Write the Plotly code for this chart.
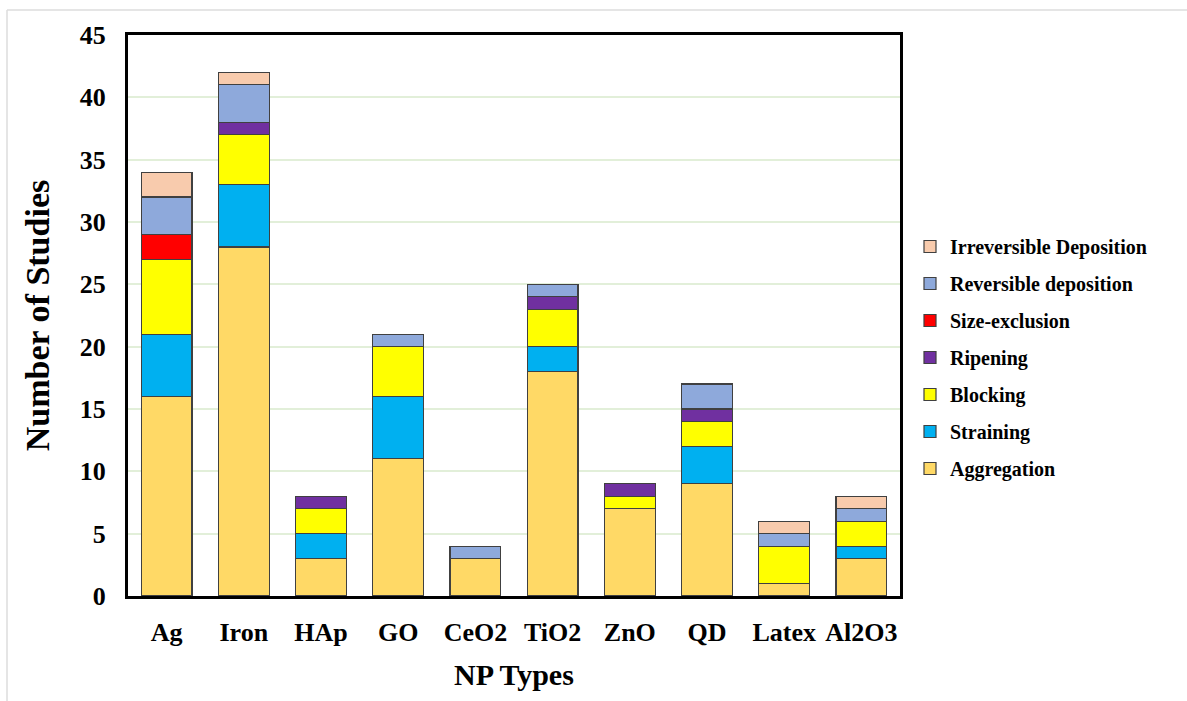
import plotly.graph_objects as go

np_types = ["Ag", "Iron", "HAp", "GO", "CeO2", "TiO2", "ZnO", "QD", "Latex", "Al2O3"]

aggregation = [16, 28, 3, 11, 3, 18, 7, 9, 1, 3]
straining = [5, 5, 2, 5, 0, 2, 0, 3, 0, 1]
blocking = [6, 4, 2, 4, 0, 3, 1, 2, 3, 2]
ripening = [0, 1, 1, 0, 0, 1, 1, 1, 0, 0]
size_exclusion = [2, 0, 0, 0, 0, 0, 0, 0, 0, 0]
reversible = [3, 3, 0, 1, 1, 1, 0, 2, 1, 1]
irreversible = [2, 1, 0, 0, 0, 0, 0, 0, 1, 1]

series = [
    ("Aggregation", aggregation, "#FFD966"),
    ("Straining", straining, "#00B0F0"),
    ("Blocking", blocking, "#FFFF00"),
    ("Ripening", ripening, "#7030A0"),
    ("Size-exclusion", size_exclusion, "#FF0000"),
    ("Reversible deposition", reversible, "#8EA9DB"),
    ("Irreversible Deposition", irreversible, "#F8CBAD"),
]

FONT = "Liberation Serif, Times New Roman, serif"

fig = go.Figure()
n = len(series)
for i, (name, vals, color) in enumerate(series):
    fig.add_trace(go.Bar(
        x=np_types, y=vals, name=f"<b>{name}</b>", legendgroup=name,
        legendrank=n - i,
        marker=dict(color=color, line=dict(color="#404040", width=1.2)),
    ))

# plot area in pixels: x 128..900, y 35..596
L, R, T, B = 128, 900, 35, 596
W, H = 1187, 701

def px_x(p):
    return (p - L) / (R - L)

def px_y(p):
    return (B - p) / (B - T)

fig.update_layout(
    width=W, height=H,
    margin=dict(l=L, r=W - R, t=T, b=H - B),
    barmode="stack",
    bargap=0.34,
    plot_bgcolor="white",
    paper_bgcolor="white",
    font=dict(family=FONT, color="black"),
    showlegend=True,
    legend=dict(
        traceorder="grouped",
        tracegroupgap=8,
        x=px_x(910), y=px_y(227), xanchor="left", yanchor="top",
        font=dict(family=FONT, size=20, color="black"),
        itemwidth=30,
        bgcolor="rgba(0,0,0,0)",
    ),
    xaxis=dict(
        title=dict(text="<b>NP Types</b>", font=dict(family=FONT, size=30), standoff=18),
        tickfont=dict(family=FONT, size=26),
        tickprefix="<b>", ticksuffix="</b>",
        ticklabelstandoff=11,
        showline=True, linecolor="black", linewidth=3, mirror=True,
        ticks="", ticklen=0,
    ),
    yaxis=dict(
        title=dict(text="<b>Number of Studies</b>", font=dict(family=FONT, size=34), standoff=20),
        range=[0, 45], dtick=5, tick0=0,
        tickfont=dict(family=FONT, size=26),
        tickprefix="<b>", ticksuffix="</b>",
        ticklabelstandoff=14,
        showline=True, linecolor="black", linewidth=3, mirror=True,
        showgrid=True, gridcolor="#E2EFD9", gridwidth=1.5,
        zeroline=False, ticks="",
    ),
    shapes=[
        dict(type="line", xref="paper", yref="paper",
             x0=px_x(7), x1=px_x(1187), y0=px_y(10), y1=px_y(10),
             line=dict(color="#DCDCDC", width=1.5)),
        dict(type="line", xref="paper", yref="paper",
             x0=px_x(7), x1=px_x(7), y0=px_y(10), y1=px_y(701),
             line=dict(color="#DCDCDC", width=1.5)),
    ],
)

fig.write_html("out.html")
